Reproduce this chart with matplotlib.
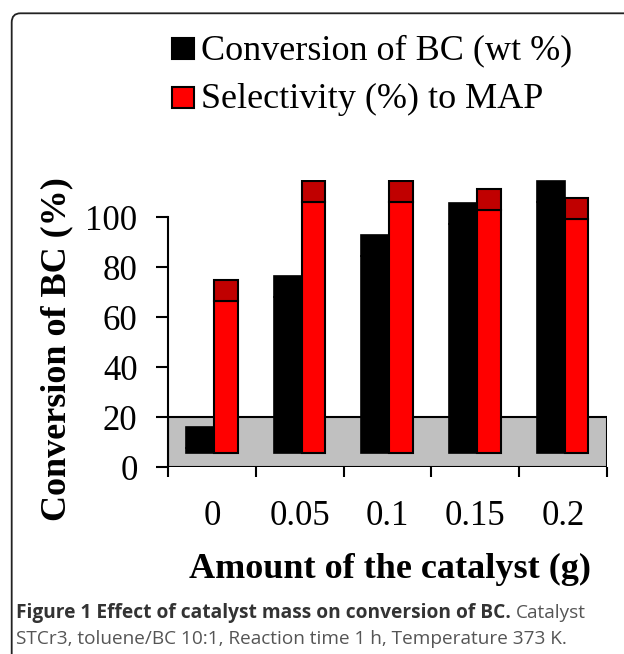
import matplotlib
matplotlib.use("Agg")
import matplotlib.pyplot as plt
import numpy as np
from matplotlib.patches import Rectangle, FancyBboxPatch

# catalyst amounts (g) and read-off bar heights (front face tops, axis units)
amounts = ["0", "0.05", "0.1", "0.15", "0.2"]
conversion = [7.7, 68.0, 84.4, 97.3, 106.0]
selectivity = [66.5, 106.0, 106.0, 102.8, 99.5]
y_ticks = [0, 20, 40, 60, 80, 100]

BAR_BASE = 5.5      # bars stand on the middle of the 3-D floor
DEPTH = 8.4         # height of the visible top face
FLOOR_TOP = 20

fig = plt.figure(figsize=(6.24, 6.54), dpi=100)
W, H = 624, 654


def fx(px):
    return px / W


def fy(py):
    return 1 - py / H


ax = fig.add_axes([fx(168.3), fy(467), fx(606.7) - fx(168.3), fy(180) - fy(467)])
ax.set_xlim(0, 5)
ax.set_ylim(0, 115)

# grey 3-D floor
ax.add_patch(Rectangle((0, 0), 5, FLOOR_TOP, facecolor="#c0c0c0", edgecolor="black",
                       linewidth=1.5, zorder=1))

x = np.arange(len(amounts))
conv = np.array(conversion)
sel = np.array(selectivity)

ax.bar(x + 0.2, conv - BAR_BASE, bottom=BAR_BASE, width=0.32, align="edge",
       color="black", edgecolor="black", linewidth=1.2, zorder=2)
ax.bar(x + 0.2, DEPTH, bottom=conv, width=0.32, align="edge",
       color="black", edgecolor="black", linewidth=1.2, zorder=2)
ax.bar(x + 0.52, sel - BAR_BASE, bottom=BAR_BASE, width=0.27, align="edge",
       color="#ff0000", edgecolor="black", linewidth=1.5, zorder=3)
ax.bar(x + 0.52, DEPTH, bottom=sel, width=0.27, align="edge",
       color="#c00000", edgecolor="black", linewidth=1.5, zorder=3)

for side in ["top", "right", "bottom"]:
    ax.spines[side].set_visible(False)
ax.spines["left"].set_bounds(0, 100)
ax.spines["left"].set_linewidth(1.5)
ax.spines["left"].set_zorder(4)

ax.set_yticks(y_ticks)
ax.set_yticklabels([str(t) for t in y_ticks], family="Liberation Serif", fontsize=25)
ax.tick_params(axis="y", direction="out", length=8.6, width=1.5, pad=13.5)

ax.set_xticks(np.arange(0, 6))
ax.set_xticklabels([])
ax.set_xticks(x + 0.5, minor=True)
ax.set_xticklabels(amounts, minor=True, family="Liberation Serif", fontsize=25)
ax.tick_params(axis="x", which="major", direction="out", length=7.5, width=1.5)
ax.tick_params(axis="x", which="minor", length=0, pad=24)

fig.text(fx(389.7), fy(578.3), "Amount of the catalyst (g)", family="Liberation Serif",
         fontweight="bold", fontsize=26, ha="center", va="baseline")
fig.text(fx(57), fy(349), "Conversion of BC (%)", family="Liberation Serif",
         fontweight="bold", fontsize=26, rotation=90, ha="center", va="center")

# legend drawn by hand
legend_rows = [("Conversion of BC (wt %)", "black", 59.3),
               ("Selectivity (%) to MAP", "#ff0000", 108.3)]
for label, color, base in legend_rows:
    fig.patches.append(Rectangle((fx(172), fy(base)), fx(193.5) - fx(172), fy(base - 21) - fy(base),
                                 transform=fig.transFigure, facecolor=color,
                                 edgecolor="black", linewidth=1.5))
    fig.text(fx(200.7), fy(base), label, family="Liberation Serif", fontsize=26,
             ha="left", va="baseline")

# rounded frame around figure + caption
fig.patches.append(FancyBboxPatch((fx(11.7), fy(700)), fx(700), fy(13.3) - fy(700),
                                  boxstyle="round,pad=0,rounding_size=0.014",
                                  transform=fig.transFigure, facecolor="none",
                                  edgecolor="#222222", linewidth=1.3))

fig.canvas.draw()
bold = fig.text(fx(16), fy(618), "Figure 1 Effect of catalyst mass on conversion of BC.",
                family="Open Sans", fontweight="bold", fontsize=13.8, color="#333333",
                va="baseline")
fig.canvas.draw()
bb = bold.get_window_extent()
fig.text(bb.x1 / W + fx(5), fy(618), "Catalyst", family="Open Sans", fontsize=13.7,
         color="#555555", va="baseline")
fig.text(fx(16), fy(644), "STCr3, toluene/BC 10:1, Reaction time 1 h, Temperature 373 K.",
         family="Open Sans", fontsize=13.7, color="#555555", va="baseline")

fig.savefig("out.png", dpi=100)
